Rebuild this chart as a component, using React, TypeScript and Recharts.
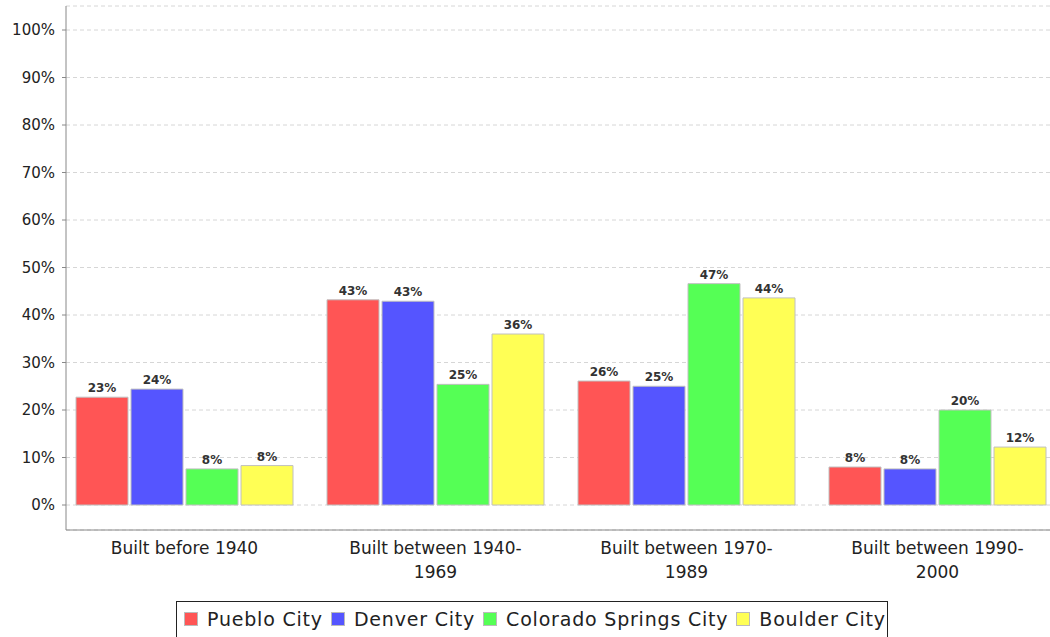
import { BarChart, Bar, XAxis, YAxis, CartesianGrid, Legend, LabelList } from "recharts"

const categories = [
  "Built before 1940",
  "Built between 1940-1969",
  "Built between 1970-1989",
  "Built between 1990-2000",
]
const pueblo = [22.7, 43.2, 26.1, 8.0]
const denver = [24.4, 42.9, 25.0, 7.6]
const coloradoSprings = [7.6, 25.4, 46.6, 20.0]
const boulder = [8.3, 36.0, 43.6, 12.2]
const yTicks = [0, 10, 20, 30, 40, 50, 60, 70, 80, 90, 100]

const series = [
  { key: "pueblo", name: "Pueblo City", color: "#ff5555" },
  { key: "denver", name: "Denver City", color: "#5555ff" },
  { key: "colorado", name: "Colorado Springs City", color: "#55ff55" },
  { key: "boulder", name: "Boulder City", color: "#ffff55" },
]

const data = categories.map((c, i) => ({
  category: c,
  pueblo: pueblo[i],
  denver: denver[i],
  colorado: coloradoSprings[i],
  boulder: boulder[i],
}))

const font = "'DejaVu Sans', sans-serif"

function CategoryTick({ x, y, payload }: any) {
  const text: string = payload.value
  const idx = text.indexOf("-")
  const lines = idx >= 0 ? [text.slice(0, idx + 1), text.slice(idx + 1)] : [text]
  return (
    <text x={x} y={y} textAnchor="middle" fill="#222" fontSize={17} fontFamily={font}>
      {lines.map((l, i) => (
        <tspan key={i} x={x} dy={24}>
          {l}
        </tspan>
      ))}
    </text>
  )
}

function LegendBox() {
  return (
    <div
      style={{
        border: "1px solid #222",
        height: 40,
        boxSizing: "border-box",
        display: "flex",
        alignItems: "flex-start",
        paddingTop: 6,
        paddingLeft: 7,
        fontFamily: font,
        fontSize: 19,
        letterSpacing: 0.8,
        color: "#222",
        whiteSpace: "nowrap",
      }}
    >
      {series.map((s) => (
        <span key={s.key} style={{ display: "inline-flex", alignItems: "center", marginRight: 8 }}>
          <span
            style={{
              width: 12,
              height: 12,
              background: s.color,
              border: "1px solid #bbb",
              marginRight: 9,
              display: "inline-block",
            }}
          />
          {s.name}
        </span>
      ))}
    </div>
  )
}

export default function App() {
  return (
    <div style={{ position: "absolute", left: 0, top: 0, width: 1050, height: 637, overflow: "hidden", background: "#fff" }}>
      <BarChart
        width={1056}
        height={637}
        data={data}
        margin={{ top: 6, right: 0, bottom: 0, left: 0 }}
        barCategoryGap={17}
        barGap={3}
      >
        <CartesianGrid vertical={false} stroke="#d6d6d6" strokeDasharray="4 3" />
        <XAxis
          dataKey="category"
          height={107}
          padding={{ left: -7, right: -7 }}
          tickLine={false}
          tickSize={0}
          tickMargin={0}
          interval={0}
          axisLine={{ stroke: "#888" }}
          tick={<CategoryTick />}
        />
        <XAxis
          xAxisId="top"
          orientation="top"
          dataKey="category"
          height={0}
          tick={false}
          tickLine={false}
          axisLine={{ stroke: "#bbb", strokeWidth: 2 }}
        />
        <YAxis
          width={66}
          domain={[0, 100]}
          ticks={yTicks}
          padding={{ top: 24, bottom: 25 }}
          tickSize={4}
          tickMargin={7}
          axisLine={{ stroke: "#888" }}
          tickLine={{ stroke: "#888" }}
          tickFormatter={(v) => `${v}%`}
          tick={{ fill: "#222", fontSize: 15, fontFamily: font }}
        />
        {series.map((s) => (
          <Bar
            key={s.key}
            dataKey={s.key}
            name={s.name}
            fill={s.color}
            stroke="#c0c0c0"
            strokeWidth={1}
            isAnimationActive={false}
          >
            <LabelList
              dataKey={s.key}
              position="top"
              offset={5}
              formatter={(v: any) => `${Math.round(Number(v))}%`}
              style={{ fontSize: 12, fontWeight: "bold", fontFamily: font, fill: "#333" }}
            />
          </Bar>
        ))}
        <Legend
          verticalAlign="middle"
          align="center"
          content={() => <LegendBox />}
          wrapperStyle={{ position: "absolute", top: 601, left: 176, width: 712, height: 40 }}
        />
      </BarChart>
    </div>
  )
}
